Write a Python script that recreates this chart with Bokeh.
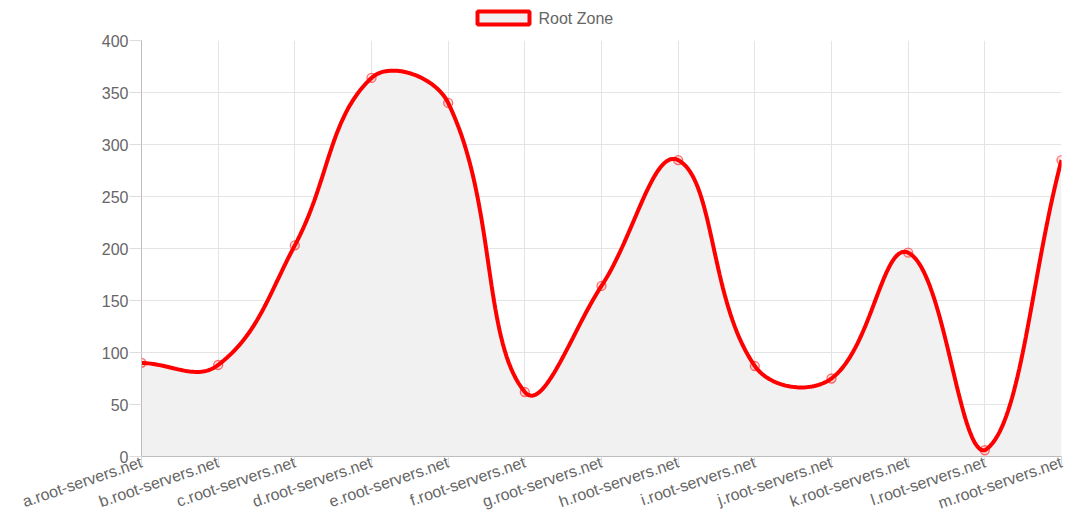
import numpy as np
from bokeh.plotting import figure
from bokeh.layouts import column
from bokeh.models import FixedTicker, Range1d
from bokeh.core.properties import value
from bokeh.embed import file_html
from bokeh.resources import INLINE

categories = ["a.root-servers.net", "b.root-servers.net", "c.root-servers.net",
              "d.root-servers.net", "e.root-servers.net", "f.root-servers.net",
              "g.root-servers.net", "h.root-servers.net", "i.root-servers.net",
              "j.root-servers.net", "k.root-servers.net", "l.root-servers.net",
              "m.root-servers.net"]
values = [90, 88, 203, 364, 340, 62, 164, 285, 87, 75, 196, 6, 285]
series_name = "Root Zone"
y_ticks = [0, 50, 100, 150, 200, 250, 300, 350, 400]

FW, FH = 920, 416
YMAX = 400
n = len(values)
xs = np.arange(n, dtype=float)
ys = np.array(values, dtype=float)

# Chart.js-style bezier spline (tension 0.4) computed in pixel space
sx = FW / (n - 1)
sy = FH / YMAX
px = xs * sx
py = ys * sy
t = 0.4
cp_prev = []
cp_next = []
for i in range(n):
    prev_i = i - 1 if i > 0 else i
    next_i = i + 1 if i < n - 1 else i
    d01 = np.hypot(px[i] - px[prev_i], py[i] - py[prev_i])
    d12 = np.hypot(px[next_i] - px[i], py[next_i] - py[i])
    tot = d01 + d12
    s01 = d01 / tot if tot else 0
    s12 = d12 / tot if tot else 0
    fa, fb = t * s01, t * s12
    dx = px[next_i] - px[prev_i]
    dy = py[next_i] - py[prev_i]
    cp_prev.append((px[i] - fa * dx, py[i] - fa * dy))
    cp_next.append((px[i] + fb * dx, py[i] + fb * dy))

def cap(pt):
    return (min(max(pt[0], 0), FW), min(max(pt[1], 0), FH))

cp_prev = [cap(c) for c in cp_prev]
cp_next = [cap(c) for c in cp_next]

curve_x, curve_y = [], []
tt = np.linspace(0, 1, 40)
for i in range(n - 1):
    p0 = np.array([px[i], py[i]])
    p1 = np.array(cp_next[i])
    p2 = np.array(cp_prev[i + 1])
    p3 = np.array([px[i + 1], py[i + 1]])
    for u in (tt if i == 0 else tt[1:]):
        b = ((1 - u) ** 3) * p0 + 3 * ((1 - u) ** 2) * u * p1 + 3 * (1 - u) * u ** 2 * p2 + u ** 3 * p3
        curve_x.append(b[0] / sx)
        curve_y.append(b[1] / sy)

FONT = "Liberation Sans"
GREY_TXT = "#666666"
RED = "#ff0000"
FILL = "#f1f1f1"
LEFT, RIGHT = 141, 1061  # frame edges in page pixels (frames are aligned in column)

# ---- legend strip (its own small figure, page-pixel coordinates) ----
LH = 30
leg = figure(width=1084, height=LH, output_backend="svg", toolbar_location=None,
             x_range=Range1d(LEFT, RIGHT), y_range=Range1d(LH, 0),
             x_axis_location=None, y_axis_location=None,
             min_border_left=0, min_border_right=0, min_border_top=0, min_border_bottom=0,
             outline_line_color=None)
leg.grid.visible = False
leg.quad(left=[477], right=[529], top=[11], bottom=[24], fill_color=FILL,
         line_color=RED, line_width=4)
leg.text(x=[538], y=[18], text=[series_name], text_font=value(FONT),
         text_font_size="16px", text_color=GREY_TXT, text_baseline="middle",
         text_align="left")

# ---- main chart ----
p = figure(width=1084, height=522 - LH, output_backend="svg", toolbar_location=None,
           x_range=Range1d(0, n - 1), y_range=Range1d(0, YMAX),
           min_border_left=LEFT, min_border_right=1084 - RIGHT, min_border_top=40 - LH,
           min_border_bottom=66)
p.outline_line_color = None

p.varea(x=curve_x, y1=0, y2=curve_y, fill_color=FILL)
p.line(x=curve_x, y=curve_y, line_color=RED, line_width=4)
p.scatter(x=xs, y=ys, size=9, fill_color=RED, fill_alpha=0.12,
          line_color=RED, line_alpha=0.55, line_width=1.3)

p.xaxis.ticker = FixedTicker(ticks=list(range(n)))
p.xaxis.major_label_overrides = {i: c for i, c in enumerate(categories)}
p.xaxis.major_label_orientation = 0.33
p.yaxis.ticker = FixedTicker(ticks=y_ticks)

for ax in (p.xaxis[0], p.yaxis[0]):
    ax.axis_line_color = "#bdbdbd"
    ax.axis_line_width = 1
    ax.major_tick_line_color = "#dcdcdc"
    ax.major_tick_out = 12
    ax.major_tick_in = 0
    ax.minor_tick_line_color = None
    ax.major_label_text_font = FONT
    ax.major_label_text_font_size = "16px"
    ax.major_label_text_color = GREY_TXT

p.xaxis.major_label_standoff = -7
p.yaxis.major_label_standoff = 1

p.xgrid.ticker = FixedTicker(ticks=list(range(n)))
p.ygrid.ticker = FixedTicker(ticks=y_ticks)
p.grid.grid_line_color = "#e4e4e4"
p.grid.grid_line_width = 1

layout = column(leg, p, spacing=0)
open("out.html", "w").write(file_html(layout, INLINE))
